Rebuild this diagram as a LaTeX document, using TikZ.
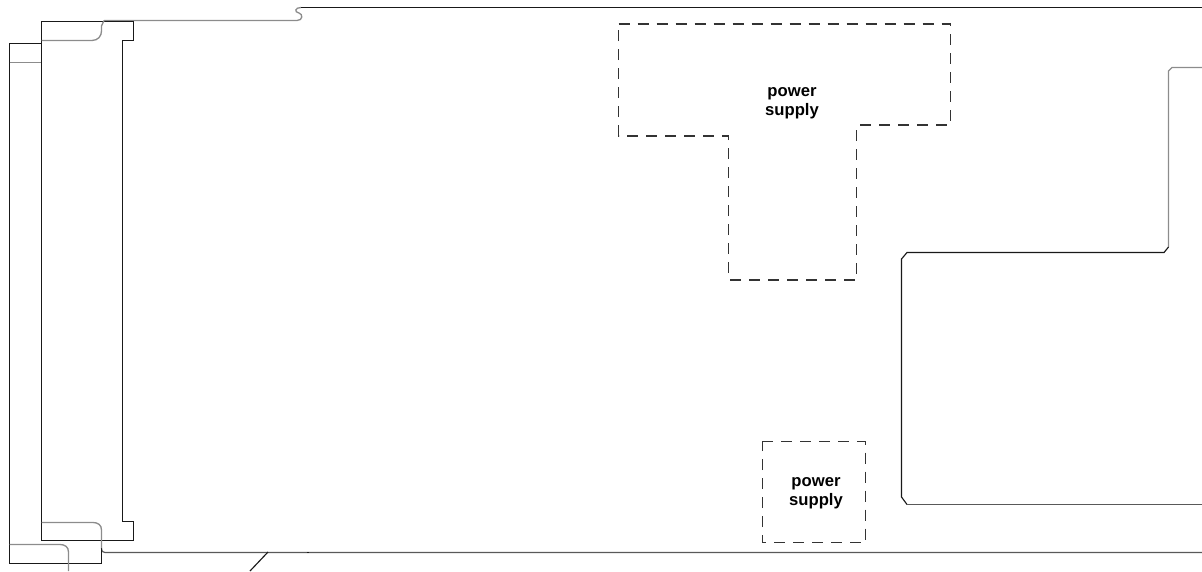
\documentclass[tikz,border=0pt]{standalone}
\usepackage{fontspec}
\setmainfont{Liberation Sans}
\usetikzlibrary{positioning}
\tikzset{
	blackline/.style={line width=0.85pt, black!90},
	greyline/.style={line width=1pt, black!45},
	midline/.style={line width=0.9pt, black!65},
	supplyborder/.style={line width=0.9pt, black!80, dash pattern=on 8.25pt off 6pt},
	supplylabel/.style={align=center, inner sep=0pt, font=\fontsize{12.5}{14.25}\selectfont\bfseries}
}

\begin{document}
\begin{tikzpicture}[x=0.75pt, y=-0.75pt]
	\useasboundingbox (0, 0) rectangle (1202, 571);
	% card outline
	\draw[greyline] (104, 20.5) -- (297, 20.5) .. controls (303, 20.5) and (303, 14) .. (299, 13) .. controls (294, 12) and (295, 7.5) .. (301, 7.5);
	\draw[blackline] (301, 7.5) -- (1202, 7.5);
	\draw[midline] (101.5, 548) .. controls (101.5, 551) and (102, 552.5) .. (105, 552.5) -- (1202, 552.5);
	\draw[blackline] (268, 552) -- (250, 571);
	\draw[blackline] (306.5, 552.5) -- (309, 552.5);
	% front panel
	\draw[blackline] (41.5, 43.5) -- (9.5, 43.5) -- (9.5, 563.5) -- (101.5, 563.5) -- (101.5, 548);
	\draw[greyline] (9.5, 62.5) -- (41.5, 62.5);
	\draw[blackline] (41.5, 21.5) -- (133.5, 21.5) -- (133.5, 40.5) -- (122.5, 40.5) -- (122.5, 521.5) -- (133.5, 521.5) -- (133.5, 540.5) -- (41.5, 540.5) --cycle;
	\draw[greyline] (41.5, 40.5) -- (92, 40.5) .. controls (98, 40.5) and (101.5, 36) .. (101.5, 31) -- (101.5, 26) -- (104, 20.5);
	\draw[greyline] (41.5, 522.5) -- (93, 522.5) .. controls (98, 522.5) and (101.5, 525) .. (101.5, 530) -- (101.5, 548);
	\draw[greyline] (9.5, 544.5) -- (60, 544.5) .. controls (65, 544.5) and (68.5, 547) .. (68.5, 552) -- (68.5, 571);
	% cut-out on the right
	\draw[greyline] (1202, 67.5) -- (1172, 67.5) -- (1168.5, 71) -- (1168.5, 247);
	\draw[blackline] (1168.5, 247) -- (1164, 252.5) -- (907, 252.5) -- (901.5, 259) -- (901.5, 497) -- (907, 504.5);
	\draw[midline] (907, 504.5) -- (1202, 504.5);
	% supplies
	\draw[supplyborder] (618.7, 24) -- (950.7, 24) -- (950.7, 125) -- (856.7, 125) -- (856.7, 280) -- (728.7, 280) -- (728.7, 136) -- (618.7, 136) --cycle;
	\node[supplylabel] (upperSupply) at (792, 103) {power\\supply};
	\draw[supplyborder] (762.3, 441.5) -- (865.3, 441.5) -- (865.3, 542.8) -- (762.3, 542.8) --cycle;
	\node[supplylabel] (lowerSupply) at (816, 493) {power\\supply};
\end{tikzpicture}
\end{document}
